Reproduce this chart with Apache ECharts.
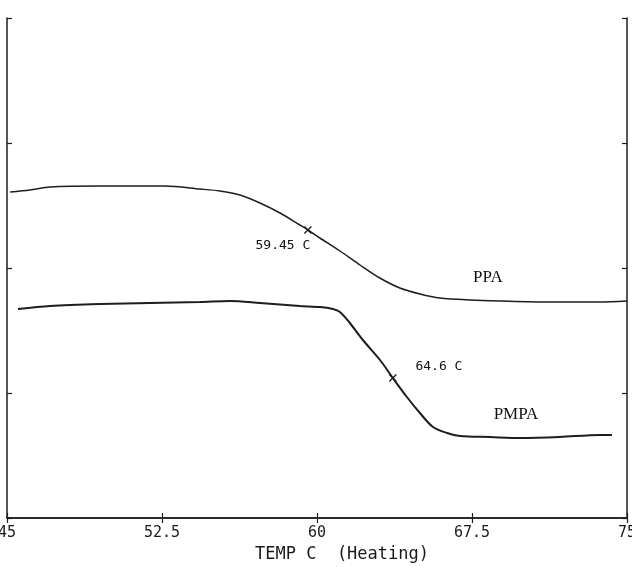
<!DOCTYPE html>
<html>
<head>
<meta charset="utf-8">
<script src="https://cdn.jsdelivr.net/npm/echarts@6/dist/echarts.min.js"></script>
<style>
  html, body { margin: 0; padding: 0; background: #fff; }
  #chart { width: 632px; height: 567px; }
</style>
</head>
<body>
<div id="chart"></div>
<script>
// temperature (C) and heat-flow (arbitrary units)
var ppaTemp = [45.15, 46.11, 47.08, 49.5, 51.43, 52.64, 54.34, 55.3, 56.27, 57.24, 58.21, 59.17, 59.56,
  60.14, 61.11, 62.08, 63.04, 64.01, 64.98, 65.95, 67.4, 68.85, 71.27, 73.69, 75.0];
var ppaFlow = [2.608, 2.624, 2.648, 2.656, 2.656, 2.656, 2.632, 2.616, 2.584, 2.52, 2.44, 2.344, 2.304,
  2.24, 2.136, 2.024, 1.92, 1.84, 1.792, 1.76, 1.744, 1.736, 1.728, 1.728, 1.736];

var pmpaTemp = [45.53, 47.08, 49.5, 51.92, 54.34, 55.79, 57.24, 59.17, 60.14, 60.77, 61.11, 61.59, 62.22,
  63.05, 63.67, 64.35, 64.98, 65.61, 66.29, 66.92, 68.37, 69.82, 71.75, 73.69, 74.27];
var pmpaFlow = [1.672, 1.696, 1.712, 1.72, 1.728, 1.736, 1.72, 1.696, 1.688, 1.672, 1.648, 1.56, 1.424,
  1.264, 1.12, 0.968, 0.84, 0.728, 0.68, 0.656, 0.648, 0.64, 0.648, 0.664, 0.664];

// transition points marked with a cross
var markTemp = [59.56, 63.67];
var markFlow = [2.304, 1.12];

// text notes on the plot
var noteText = ['59.45 C', '64.6 C', 'PPA', 'PMPA'];
var noteTemp = [58.35, 65.9, 68.27, 69.63];
var noteFlow = [2.176, 1.208, 1.92, 0.824];

var xTicks = [45, 52.5, 60, 67.5, 75];

function pairs(xs, ys) {
  return xs.map(function (x, i) { return [x, ys[i]]; });
}

var ink = '#1e1e1e';
var mono = '"DejaVu Sans Mono", monospace';
var serif = '"Liberation Serif", "DejaVu Serif", serif';

var chart = echarts.init(document.getElementById('chart'));

function xAx(pos, showLabel) {
  return {
    type: 'value',
    position: pos,
    min: xTicks[0],
    max: xTicks[xTicks.length - 1],
    interval: xTicks[1] - xTicks[0],
    axisLine: { show: true, lineStyle: { color: ink, width: 1.5 } },
    axisTick: { show: true, inside: true, length: 5, lineStyle: { color: ink, width: 1.2 } },
    axisLabel: {
      show: showLabel, margin: 8, color: '#1a1a1a',
      fontFamily: mono, fontSize: 15
    },
    splitLine: { show: false }
  };
}

function yAx(pos) {
  return {
    type: 'value',
    position: pos,
    min: 0, max: 4, interval: 1,
    axisLine: { show: true, lineStyle: { color: ink, width: 1.5 } },
    axisTick: { show: true, inside: true, length: 5, lineStyle: { color: ink, width: 1.2 } },
    axisLabel: { show: false },
    splitLine: { show: false }
  };
}

var bottomAxis = xAx('bottom', true);
bottomAxis.name = 'TEMP C  (Heating)';
bottomAxis.nameLocation = 'middle';
bottomAxis.nameGap = 27;
bottomAxis.nameTextStyle = {
  fontFamily: mono, fontSize: 17, color: '#1a1a1a', padding: [0, 0, 0, 50]
};

var noteStyles = [
  { fontFamily: mono, fontSize: 13 },
  { fontFamily: mono, fontSize: 13 },
  { fontFamily: serif, fontSize: 17 },
  { fontFamily: serif, fontSize: 17 }
];

chart.setOption({
  animation: false,
  backgroundColor: '#fff',
  grid: { left: 7, right: 5, top: 18, bottom: 49, outerBoundsMode: 'none', containLabel: false },
  xAxis: [bottomAxis, xAx('top', false)],
  yAxis: [yAx('left'), yAx('right')],
  series: [
    {
      name: 'PPA', type: 'line', smooth: 0.3, showSymbol: false,
      lineStyle: { color: ink, width: 1.5 },
      data: pairs(ppaTemp, ppaFlow)
    },
    {
      name: 'PMPA', type: 'line', smooth: 0.3, showSymbol: false,
      lineStyle: { color: ink, width: 2 },
      data: pairs(pmpaTemp, pmpaFlow)
    },
    {
      type: 'scatter',
      symbol: 'path://M0,0L10,10M10,0L0,10',
      symbolSize: 7,
      itemStyle: { color: 'none', borderColor: ink, borderWidth: 1.4, opacity: 1 },
      data: pairs(markTemp, markFlow)
    },
    {
      type: 'scatter',
      symbolSize: 0,
      itemStyle: { opacity: 1 },
      data: noteText.map(function (t, i) {
        return {
          name: t,
          value: [noteTemp[i], noteFlow[i]],
          label: Object.assign({
            show: true, position: 'inside', formatter: '{b}', color: '#111'
          }, noteStyles[i])
        };
      })
    }
  ]
});
</script>
</body>
</html>
